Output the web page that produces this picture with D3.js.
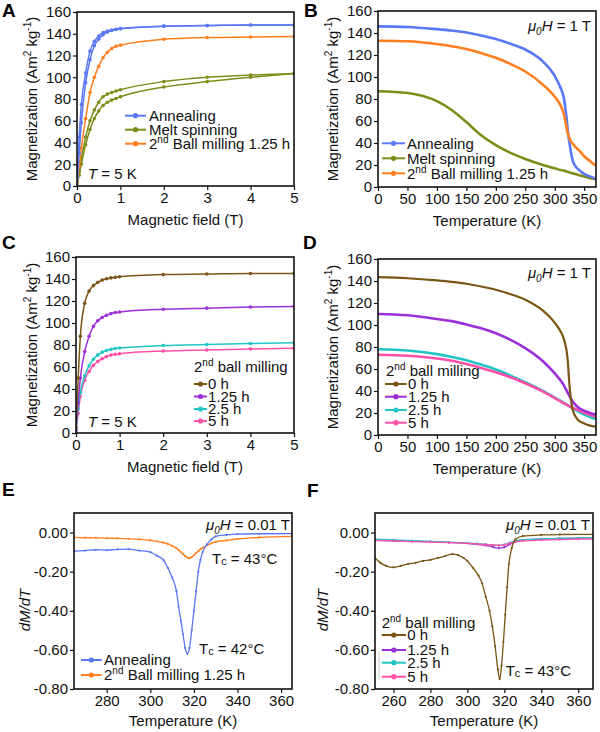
<!DOCTYPE html>
<html lang="en">
<head>
<meta charset="UTF-8">
<script src="https://d3js.org/d3.v7.min.js"></script>
<style>
  body { margin: 0; background: #fff; }
  svg { font-family: Arial, "Liberation Sans", sans-serif; }
  .axis text { font-size: 15px; fill: #111; }
  .axis path { display: none; }
  .axis line { stroke: #111; stroke-width: 1.2px; }
  .frame { fill: none; stroke: #111; stroke-width: 1.6px; }
  .ttl { font-size: 15px; fill: #111; }
  .letter { font-size: 19px; font-weight: bold; fill: #000; }
</style>
</head>
<body>
<svg id="fig" width="600" height="732"></svg>
<script>
// ---- colours ----
const cBlue = "#5a78f5", cOrange = "#ff7f1e", cOlive = "#7f8c1a";
const cBrown = "#7a5514", cPurple = "#9b2fd8", cCyan = "#22c5c5", cPink = "#ff4fa8";

// ---- A: M(H) at 5 K ----
const fieldA = [0, 0.05, 0.1, 0.2, 0.3, 0.4, 0.5, 0.6, 0.7, 0.8, 0.9, 1, 2, 3, 4, 5];
const annealRise = [0, 30, 58, 95, 116, 129, 135, 139, 141.5, 143, 144, 144.5, 147, 147.5, 148, 148];
const annealFall = [8, 45, 75, 104, 124, 133, 138, 141, 142.5, 143.5, 144.2, 144.8, 147, 147.5, 148, 148];
const meltRise = [0, 10, 20, 38, 52, 62, 69, 74, 77, 79, 80.5, 82, 91, 96, 100, 103.5];
const meltFall = [2, 13, 25, 45, 60, 70, 77, 82, 84.5, 86, 87.3, 88.5, 96, 100, 102, 103.5];
const ball125A = [3, 18, 35, 62, 86, 100, 110, 118, 123, 126.5, 128.5, 129.5, 135, 136.5, 137, 137.5];

// ---- B: M(T) at 1 T ----
const tempB = [0, 50, 100, 125, 150, 175, 200, 225, 250, 280, 300, 310, 315, 318, 320, 322, 325, 328, 331, 335, 340, 350, 360, 370];
const annealB = [146, 145.5, 143.5, 142.2, 140.5, 137.8, 134.5, 130.2, 125, 114, 101, 90, 82, 72, 63, 52, 40, 30, 23, 19, 16, 12, 9.5, 7.5];
const ball125B = [133, 132.5, 130, 128, 125.5, 121.8, 117.5, 111.8, 105, 93, 82, 74, 67, 60, 54, 49, 44, 41, 39, 36.5, 34, 28, 23.5, 19.5];
const meltB = [87, 85.5, 78, 70, 59, 47, 38, 31, 25.5, 20, 17, 15.5, 15, 14.5, 14, 13.8, 13.3, 12.8, 12.3, 11.8, 11, 9.5, 8, 7];

// ---- C: M(H) at 5 K, 2nd ball milling time ----
const mill0C = [5, 50, 88, 118, 129, 134, 137, 139, 140.2, 141, 141.5, 142, 144, 144.5, 145, 145];
const mill125C = [3, 28, 50, 74, 88, 97, 102, 105, 107, 108.5, 109.5, 110, 112.5, 113.5, 114.5, 115];
const mill25C = [2, 22, 37, 52, 61, 67, 71, 73.5, 75, 76, 76.8, 77.3, 79.5, 80.5, 81.3, 82];
const mill5C = [2, 18, 33, 48, 56, 61.5, 65, 67.5, 69.5, 70.8, 71.5, 72, 74.5, 75.5, 76.3, 77];

// ---- D: M(T) at 1 T ----
const mill0D = [143.5, 142.5, 140.5, 139.2, 137.5, 135, 132, 128, 123, 113, 102, 94, 88, 82, 77, 68, 45, 30, 22, 17, 13.5, 10.5, 8.5, 7.5];
const mill125D = [110, 108.8, 105.5, 103.5, 100.5, 97, 92.5, 86.5, 79, 67, 56, 49.5, 45.5, 42.5, 40.5, 38.5, 35.5, 32.5, 30, 27.5, 25, 22, 20, 18.5];
const mill25D = [78, 76.8, 73.5, 71, 68, 64, 59.5, 54, 48, 40, 34, 31, 29.5, 28.5, 27.8, 27, 26, 25, 24, 22.8, 21.3, 18.5, 16.3, 14.5];
const mill5D = [73, 72, 69.5, 67.5, 64.5, 61, 57, 52.5, 47, 39.5, 33.5, 30.5, 29, 28.2, 27.6, 27, 26.2, 25.4, 24.6, 23.6, 22.4, 20.2, 18.3, 16.5];

// ---- E: dM/dT at 0.01 T ----
const tempE = [265, 270, 275, 280, 285, 290, 295, 300, 303, 306, 308, 310, 312, 313, 314, 315, 316, 317, 318, 319, 320, 321, 322, 323, 324, 326, 328, 330, 335, 340, 350, 365];
const annealE = [-0.095, -0.092, -0.088, -0.09, -0.086, -0.085, -0.092, -0.1, -0.118, -0.14, -0.18, -0.23, -0.3, -0.38, -0.45, -0.52, -0.59, -0.62, -0.59, -0.5, -0.4, -0.3, -0.2, -0.14, -0.1, -0.06, -0.035, -0.02, -0.012, -0.008, -0.006, -0.005];
const ball125E = [-0.025, -0.026, -0.027, -0.028, -0.03, -0.032, -0.035, -0.04, -0.045, -0.052, -0.058, -0.068, -0.08, -0.09, -0.1, -0.11, -0.12, -0.128, -0.132, -0.125, -0.115, -0.105, -0.095, -0.085, -0.078, -0.065, -0.055, -0.048, -0.04, -0.033, -0.025, -0.02];

// ---- F: dM/dT at 0.01 T ----
const tempF = [250, 253, 256, 260, 264, 268, 272, 276, 280, 284, 288, 292, 295, 298, 300, 303, 306, 308, 310, 312, 313.5, 315, 316.5, 317.5, 318.5, 319.5, 320.5, 321.5, 322.5, 324, 326, 330, 340, 350, 368];
const mill0F = [-0.13, -0.155, -0.17, -0.178, -0.17, -0.16, -0.155, -0.145, -0.14, -0.13, -0.12, -0.11, -0.115, -0.13, -0.145, -0.18, -0.22, -0.26, -0.33, -0.4, -0.48, -0.58, -0.7, -0.75, -0.68, -0.56, -0.42, -0.28, -0.16, -0.08, -0.035, -0.018, -0.012, -0.01, -0.009];
const tempF2 = [250, 260, 270, 280, 290, 300, 305, 310, 314, 317, 320, 323, 326, 330, 340, 350, 360, 368];
const mill125F = [-0.04, -0.042, -0.044, -0.046, -0.05, -0.055, -0.06, -0.066, -0.074, -0.08, -0.075, -0.06, -0.045, -0.038, -0.033, -0.03, -0.028, -0.027];
const mill25F = [-0.033, -0.037, -0.041, -0.045, -0.049, -0.054, -0.057, -0.06, -0.064, -0.066, -0.062, -0.052, -0.042, -0.037, -0.033, -0.03, -0.028, -0.027];
const mill5F = [-0.04, -0.043, -0.046, -0.049, -0.052, -0.055, -0.058, -0.061, -0.064, -0.066, -0.062, -0.055, -0.048, -0.043, -0.039, -0.036, -0.034, -0.033];

// ---- tick labels ----
const fieldTicks = [0, 1, 2, 3, 4, 5];
const magTicks = [0, 20, 40, 60, 80, 100, 120, 140, 160];
const tempTicks = [0, 50, 100, 150, 200, 250, 300, 350];
const tempTicksE = [280, 300, 320, 340, 360];
const tempTicksF = [260, 280, 300, 320, 340, 360];
const dmTicks = [0, -0.2, -0.4, -0.6, -0.8];

const svg = d3.select("#fig");
let clipId = 0;

function rich(sel, parts) {
  let shift = 0;
  parts.forEach(p => {
    const target = p.sup ? -6 : p.sub ? 4 : p.low ? 1 : 0;
    const s = sel.append("tspan").attr("dy", target - shift).text(p.t);
    shift = target;
    if (p.sup || p.sub) s.attr("font-size", 10);
    if (p.low) s.attr("font-size", 11);
    if (p.it) s.attr("font-style", "italic");
  });
  return sel;
}

function panel(box, xDom, yDom, xTicks, yTicks, yFmt) {
  const g = svg.append("g").attr("transform", `translate(${box.x},${box.y})`);
  const x = d3.scaleLinear().domain(xDom).range([0, box.w]);
  const y = d3.scaleLinear().domain(yDom).range([box.h, 0]);
  g.append("g").attr("class", "axis")
    .attr("transform", `translate(0,${box.h})`)
    .call(d3.axisBottom(x).tickValues(xTicks).tickSize(4).tickSizeOuter(0).tickPadding(2).tickFormat(d => String(d)));
  g.append("g").attr("class", "axis")
    .call(d3.axisLeft(y).tickValues(yTicks).tickSize(4).tickSizeOuter(0).tickPadding(2).tickFormat(yFmt));
  const id = "clip" + (clipId++);
  g.append("clipPath").attr("id", id).append("rect").attr("width", box.w).attr("height", box.h);
  const plot = g.append("g").attr("clip-path", `url(#${id})`);
  g.append("rect").attr("class", "frame").attr("width", box.w).attr("height", box.h);
  return { g, plot, x, y, box };
}

function series(p, xs, ys, color, sw, r) {
  const pts = xs.map((v, i) => [v, ys[i]]);
  const line = d3.line().x(d => p.x(d[0])).y(d => p.y(d[1])).curve(d3.curveMonotoneX);
  p.plot.append("path").datum(pts).attr("d", line)
    .attr("fill", "none").attr("stroke", color).attr("stroke-width", sw);
  if (r > 0) {
    p.plot.selectAll(null).data(pts).enter().append("circle")
      .attr("cx", d => p.x(d[0])).attr("cy", d => p.y(d[1])).attr("r", r).attr("fill", color);
  }
}

function legend(x0, x1, tx, rows) {
  rows.forEach(row => {
    svg.append("line").attr("x1", x0).attr("x2", x1).attr("y1", row.y).attr("y2", row.y)
      .attr("stroke", row.color).attr("stroke-width", 2);
    svg.append("circle").attr("cx", (x0 + x1) / 2).attr("cy", row.y).attr("r", 2.6).attr("fill", row.color);
    rich(svg.append("text").attr("class", "ttl").attr("x", tx).attr("y", row.y + 5.3), row.parts);
  });
}

function label(x, y, parts, anchor, color) {
  return rich(svg.append("text").attr("class", "ttl").attr("x", x).attr("y", y)
    .attr("text-anchor", anchor || "start").attr("fill", color || "#111"), parts);
}

function magTitle(cx, cy) {
  rich(svg.append("text").attr("class", "ttl").attr("text-anchor", "middle")
    .attr("transform", `translate(${cx},${cy}) rotate(-90)`),
    [{ t: "Magnetization (Am" }, { t: "2", sup: true }, { t: " kg" }, { t: "-1", sup: true }, { t: ")" }]);
}

function dmTitle(cx, cy) {
  svg.append("text").attr("class", "ttl").attr("text-anchor", "middle").attr("font-style", "italic")
    .attr("transform", `translate(${cx},${cy}) rotate(-90)`).text("dM/dT");
}

function xTitle(p, text, dy) {
  svg.append("text").attr("class", "ttl").attr("text-anchor", "middle")
    .attr("x", p.box.x + p.box.w / 2).attr("y", p.box.y + p.box.h + dy).text(text);
}

const magFmt = d => String(d);
const dmFmt = d => d.toFixed(2);
const second = [{ t: "2" }, { t: "nd", sup: true }];
const mu = v => [{ t: "μ", it: true }, { t: "0", sub: true, it: true }, { t: "H", it: true }, { t: " = " + v }];
const tc = v => [{ t: "T" }, { t: "c", low: true }, { t: " = " + v }];

// ---- panel A ----
const pA = panel({ x: 77, y: 12, w: 217, h: 174 }, [0, 5], [0, 160], fieldTicks, magTicks, magFmt);
series(pA, fieldA, meltRise, cOlive, 1.5, 1.8);
series(pA, fieldA, meltFall, cOlive, 1.5, 1.8);
series(pA, fieldA, ball125A, cOrange, 1.5, 1.8);
series(pA, fieldA, annealRise, cBlue, 1.5, 1.8);
series(pA, fieldA, annealFall, cBlue, 1.5, 1.8);
magTitle(37, 99);
xTitle(pA, "Magnetic field (T)", 39);
legend(125, 146, 149, [
  { y: 115.7, color: cBlue, parts: [{ t: "Annealing" }] },
  { y: 129.7, color: cOlive, parts: [{ t: "Melt spinning" }] },
  { y: 143.7, color: cOrange, parts: second.concat([{ t: " Ball milling 1.25 h" }]) }
]);
label(88, 179, [{ t: "T", it: true }, { t: " = 5 K" }]);

// ---- panel B ----
const pB = panel({ x: 378, y: 11, w: 218, h: 176 }, [0, 370], [0, 160], tempTicks, magTicks, magFmt);
series(pB, tempB, meltB, cOlive, 2.6, 0);
series(pB, tempB, annealB, cBlue, 2.6, 0);
series(pB, tempB, ball125B, cOrange, 2.6, 0);
magTitle(338, 99);
xTitle(pB, "Temperature (K)", 39);
legend(382, 405, 407, [
  { y: 143.3, color: cBlue, parts: [{ t: "Annealing" }] },
  { y: 158.3, color: cOlive, parts: [{ t: "Melt spinning" }] },
  { y: 173.3, color: cOrange, parts: second.concat([{ t: " Ball milling 1.25 h" }]) }
]);
label(591, 30.5, mu("1 T"), "end");

// ---- panel C ----
const pC = panel({ x: 76, y: 257, w: 218, h: 176 }, [0, 5], [0, 160], fieldTicks, magTicks, magFmt);
series(pC, fieldA, mill5C, cPink, 1.5, 1.8);
series(pC, fieldA, mill25C, cCyan, 1.5, 1.8);
series(pC, fieldA, mill125C, cPurple, 1.5, 1.8);
series(pC, fieldA, mill0C, cBrown, 1.5, 1.8);
magTitle(37, 345);
xTitle(pC, "Magnetic field (T)", 39);
label(194, 372, second.concat([{ t: " ball milling" }]));
legend(194, 207, 208, [
  { y: 384, color: cBrown, parts: [{ t: "0 h" }] },
  { y: 396.5, color: cPurple, parts: [{ t: "1.25 h" }] },
  { y: 409, color: cCyan, parts: [{ t: "2.5 h" }] },
  { y: 421, color: cPink, parts: [{ t: "5 h" }] }
]);
label(88, 426.5, [{ t: "T", it: true }, { t: " = 5 K" }]);

// ---- panel D ----
const pD = panel({ x: 378, y: 259, w: 218, h: 176 }, [0, 370], [0, 160], tempTicks, magTicks, magFmt);
series(pD, tempB, mill25D, cCyan, 2.6, 0);
series(pD, tempB, mill5D, cPink, 2.6, 0);
series(pD, tempB, mill125D, cPurple, 2.6, 0);
series(pD, tempB, mill0D, cBrown, 2.2, 0);
magTitle(338, 347);
xTitle(pD, "Temperature (K)", 39);
label(386, 375.5, second.concat([{ t: " ball milling" }]));
legend(385, 406.7, 408, [
  { y: 384, color: cBrown, parts: [{ t: "0 h" }] },
  { y: 396.7, color: cPurple, parts: [{ t: "1.25 h" }] },
  { y: 410, color: cCyan, parts: [{ t: "2.5 h" }] },
  { y: 422.7, color: cPink, parts: [{ t: "5 h" }] }
]);
label(591, 278, mu("1 T"), "end");

// ---- panel E ----
const pE = panel({ x: 74, y: 513, w: 218, h: 176 }, [265, 365], [-0.8, 0.1], tempTicksE, dmTicks, dmFmt);
series(pE, tempE, ball125E, cOrange, 1.3, 1.1);
series(pE, tempE, annealE, cBlue, 1.3, 1.1);
dmTitle(30, 610);
xTitle(pE, "Temperature (K)", 37);
legend(81, 101.7, 104, [
  { y: 660, color: cBlue, parts: [{ t: "Annealing" }] },
  { y: 675, color: cOrange, parts: second.concat([{ t: " Ball milling 1.25 h" }]) }
]);
label(290, 530, mu("0.01 T"), "end");
label(212, 563.5, tc("43°C"), "start", cOrange);
label(199, 653.5, tc("42°C"), "start", cBlue);

// ---- panel F ----
const pF = panel({ x: 375, y: 513, w: 218, h: 176 }, [250, 368], [-0.8, 0.1], tempTicksF, dmTicks, dmFmt);
series(pF, tempF2, mill125F, cPurple, 1.3, 1.1);
series(pF, tempF2, mill25F, cCyan, 1.3, 1.1);
series(pF, tempF2, mill5F, cPink, 1.3, 1.1);
series(pF, tempF, mill0F, cBrown, 1.3, 1.1);
// faint stray stroke left of the F legend
svg.append("line").attr("x1", 379).attr("x2", 379).attr("y1", 652).attr("y2", 680)
  .attr("stroke", "#c8c8c8").attr("stroke-width", 1);
dmTitle(328, 610);
xTitle(pF, "Temperature (K)", 37);
label(381.7, 628, second.concat([{ t: " ball milling" }]));
legend(381.7, 406, 407.3, [
  { y: 635, color: cBrown, parts: [{ t: "0 h" }] },
  { y: 650, color: cPurple, parts: [{ t: "1.25 h" }] },
  { y: 662.7, color: cCyan, parts: [{ t: "2.5 h" }] },
  { y: 676.7, color: cPink, parts: [{ t: "5 h" }] }
]);
label(590, 530, mu("0.01 T"), "end");
label(505.7, 676, tc("43°C"), "start", cBrown);

// ---- panel letters ----
[["A", 2, 17], ["B", 304, 17], ["C", 2, 249], ["D", 303, 249], ["E", 2, 496], ["F", 307, 497]]
  .forEach(([t, x, y]) => svg.append("text").attr("class", "letter").attr("x", x).attr("y", y).text(t));
</script>
</body>
</html>
